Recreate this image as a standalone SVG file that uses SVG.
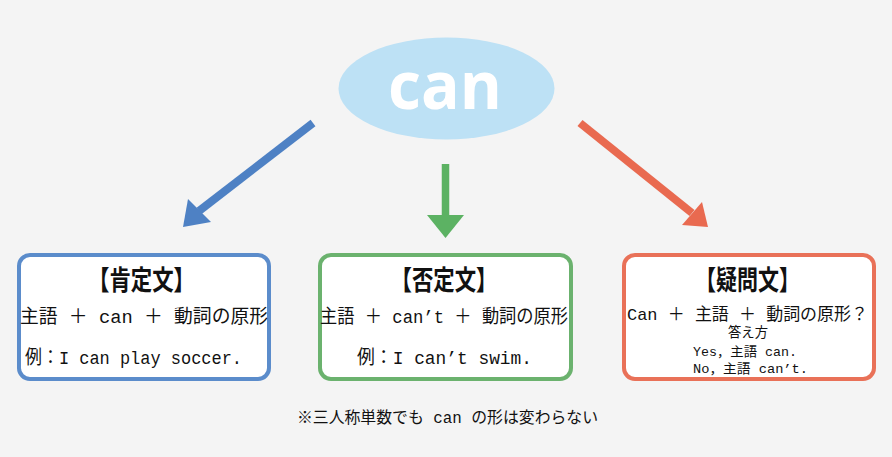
<svg xmlns="http://www.w3.org/2000/svg" width="892" height="457" viewBox="0 0 892 457">
<style>
.jp{font-family:"Liberation Mono","Noto Sans CJK JP",monospace;fill:#111}
.ttl{font-family:"Noto Sans CJK JP",sans-serif;font-weight:bold;font-size:27px;fill:#111}
.box{fill:#fff;stroke-width:4}
</style>
<rect width="892" height="457" fill="#F4F4F4"/>
<g id="can">
<ellipse cx="446.5" cy="88.5" rx="108" ry="51" fill="#BDE1F5"/>
<text x="445" y="109" text-anchor="middle" font-family="'Open Sans',sans-serif" font-weight="bold" font-size="67" fill="#fff" textLength="114" lengthAdjust="spacingAndGlyphs">can</text>
</g>
<g id="connectors">
<line x1="313" y1="123" x2="199" y2="211" stroke="#4E81C4" stroke-width="8"/>
<polygon points="183,227 188,199 211,222" fill="#4E81C4"/>
<line x1="445.5" y1="164" x2="445.5" y2="216" stroke="#5CB263" stroke-width="7.5"/>
<polygon points="427,215 464,215 445.5,238" fill="#5CB263"/>
<line x1="580" y1="123" x2="692" y2="213" stroke="#E96A50" stroke-width="8"/>
<polygon points="708,227 682,225 702,202" fill="#E96A50"/>
</g>
<g id="affirmative">
<rect class="box" x="19" y="255" width="250" height="124" rx="11" stroke="#5B8CCB"/>
<text class="ttl" x="141.5" y="290" text-anchor="middle" textLength="107" lengthAdjust="spacingAndGlyphs">【肯定文】</text>
<text class="jp" x="20" y="323" font-size="19" textLength="248" lengthAdjust="spacingAndGlyphs">主語 ＋ can ＋ 動詞の原形</text>
<text class="jp" x="25" y="364" font-size="19" textLength="217" lengthAdjust="spacingAndGlyphs">例：I can play soccer.</text>
</g>
<g id="negative">
<rect class="box" x="320" y="255" width="251" height="124" rx="11" stroke="#6BB26E"/>
<text class="ttl" x="444" y="290" text-anchor="middle" textLength="107" lengthAdjust="spacingAndGlyphs">【否定文】</text>
<text class="jp" x="320" y="323" font-size="19" textLength="248" lengthAdjust="spacingAndGlyphs">主語 ＋ can’t ＋ 動詞の原形</text>
<text class="jp" x="357" y="364" font-size="19" textLength="175" lengthAdjust="spacingAndGlyphs">例：I can’t swim.</text>
</g>
<g id="question">
<rect class="box" x="624" y="255" width="250" height="124" rx="11" stroke="#E97158"/>
<text class="ttl" x="747.5" y="290" text-anchor="middle" textLength="105" lengthAdjust="spacingAndGlyphs">【疑問文】</text>
<text class="jp" x="627" y="320" font-size="17" textLength="241" lengthAdjust="spacingAndGlyphs">Can ＋ 主語 ＋ 動詞の原形？</text>
<text class="jp" x="748" y="337" font-size="14" text-anchor="middle" textLength="40" lengthAdjust="spacingAndGlyphs">答え方</text>
<text class="jp" x="693" y="356" font-size="13" textLength="104" lengthAdjust="spacingAndGlyphs">Yes，主語 can.</text>
<text class="jp" x="693" y="373" font-size="13" textLength="115" lengthAdjust="spacingAndGlyphs">No，主語 can’t.</text>
</g>
<g id="note">
<text class="jp" x="297" y="423" font-size="16" textLength="301" lengthAdjust="spacingAndGlyphs">※三人称単数でも can の形は変わらない</text>
</g>
</svg>
